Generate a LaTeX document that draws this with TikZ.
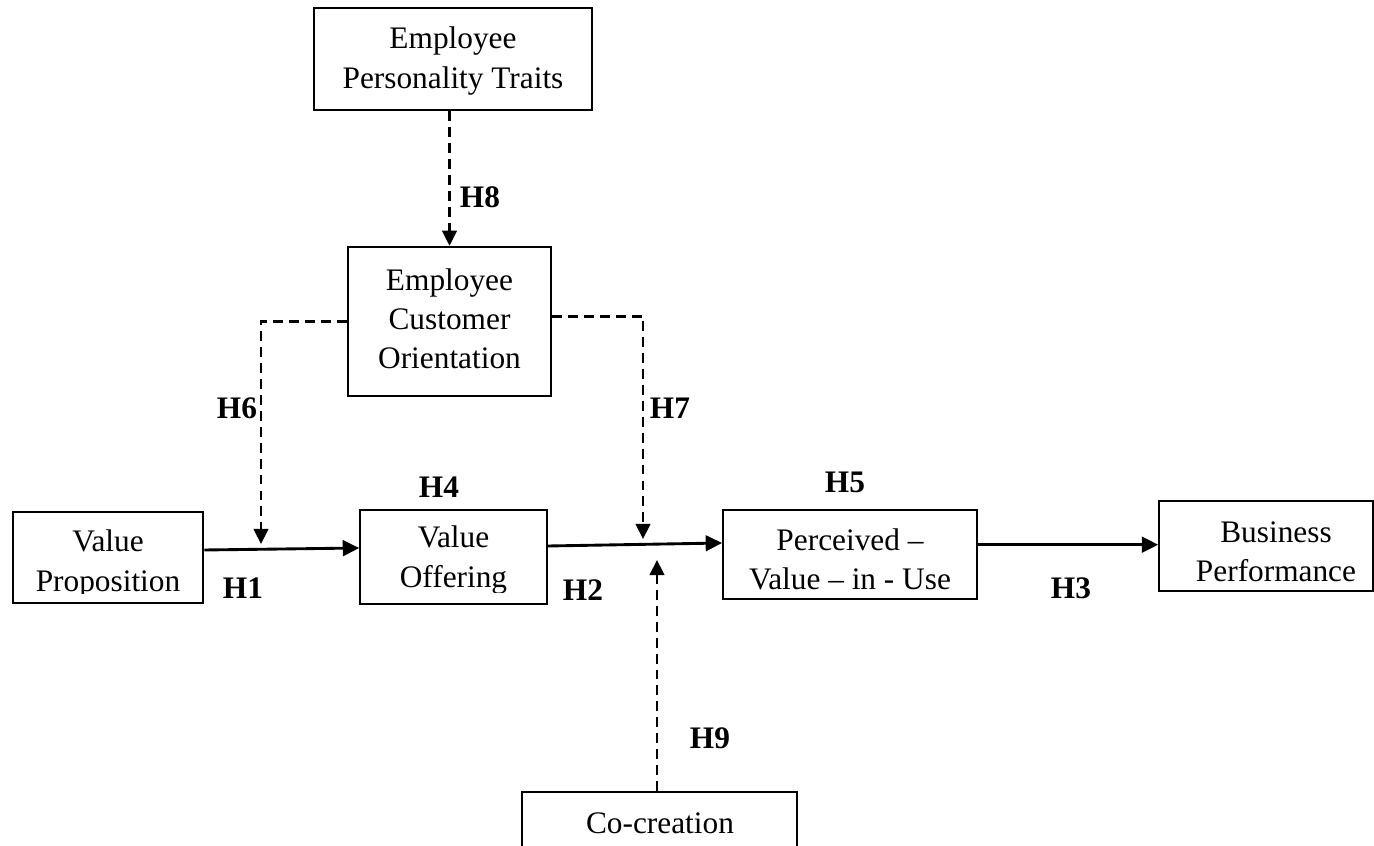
\documentclass[tikz,border=0pt]{standalone}
\usepackage{fontspec}
\setmainfont{Liberation Serif}
\usetikzlibrary{arrows.meta,calc}
\begin{document}
\begin{tikzpicture}[x=0.383pt,y=-0.383pt,
  box/.style={draw,rectangle,inner sep=0pt,line width=#1},
  box/.default=0.7pt,
  txt/.style={align=center,font=\fontsize{12}{15}\selectfont,inner sep=0pt},
  hyp/.style={font=\fontsize{12}{15}\selectfont\bfseries,inner sep=0pt},
  link/.style={line width=1.1pt,-{Triangle[length=6.3pt,width=6pt]}},
  mod/.style={line width=0.9pt,-{Triangle[length=5.8pt,width=5.6pt]},dash pattern=on 3.8pt off 2.3pt},
]
\useasboundingbox (0,0) rectangle (1374,846);
\clip (0,0) rectangle (1374,846);

% boxes
\node[box=0.8pt,minimum width=278*0.383pt,minimum height=102*0.383pt] (ept) at (453,59) {};
\node[txt] (eptT) at (453,61) {Employee\\Personality Traits};

\node[box=0.9pt,minimum width=203*0.383pt,minimum height=149*0.383pt] (eco) at (449.5,321.5) {};
\node[txt] (ecoT) at (449.5,319) {Employee\\Customer\\Orientation};

\node[box=1pt,minimum width=190*0.383pt,minimum height=91*0.383pt] (vp) at (108,557.5) {};
\begin{scope}
  \clip (13,500) rectangle (203,594);
  \node[txt] (vpT) at (108,564) {Value\\Proposition};
\end{scope}

\node[box=0.6pt,minimum width=187*0.383pt,minimum height=94*0.383pt] (vo) at (453.5,557) {};
\begin{scope}
  \clip (360,500) rectangle (547,593);
  \node[txt] (voT) at (453.5,560) {Value\\Offering};
\end{scope}

\node[box=0.7pt,minimum width=254*0.383pt,minimum height=89*0.383pt] (pvu) at (850,554.5) {};
\node[txt] (pvuT) at (850,559) {Perceived --\\Value -- in - Use};

\node[box=0.6pt,minimum width=214*0.383pt,minimum height=90*0.383pt] (bp) at (1266,546) {};
\node[txt] (bpT) at (1276,552) {Business\\Performance};

\node[box=0.8pt,minimum width=275*0.383pt,minimum height=108*0.383pt] (cc) at (659.5,846) {};
\node[txt] (ccT) at (660,823) {Co-creation};

% free ends of moderating arrows
\coordinate (h6e) at (261,544);
\coordinate (h7e) at (643,539);
\coordinate (h9e) at (657,560);

% connectors
\draw[mod] (ept.south -| eco.north) -- (eco.north);
\draw[mod] (eco.west) -| (h6e);
\draw[mod] ($(eco.east)+(0,-5)$) -| (h7e);
\draw[mod] (cc.north -| h9e) -- (h9e);

\draw[link] ($(vp.east)+(0,-7.5)$) -- ($(vo.west)+(0,-9)$);
\draw[link] ($(vo.east)+(0,-11)$) -- ($(pvu.west)+(0,-11.5)$);
\draw[link] ($(pvu.east)+(0,-9.8)$) -- ($(bp.west)+(0,-1.3)$);

% hypothesis labels
\node[hyp] (h1) at (243,588) {H1};
\node[hyp] (h2) at (583,590) {H2};
\node[hyp] (h3) at (1071,588) {H3};
\node[hyp] (h4) at (439,487) {H4};
\node[hyp] (h5) at (845,482) {H5};
\node[hyp] (h6) at (237,408) {H6};
\node[hyp] (h7) at (670,408) {H7};
\node[hyp] (h8) at (480,197) {H8};
\node[hyp] (h9) at (710,738) {H9};
\end{tikzpicture}
\end{document}
